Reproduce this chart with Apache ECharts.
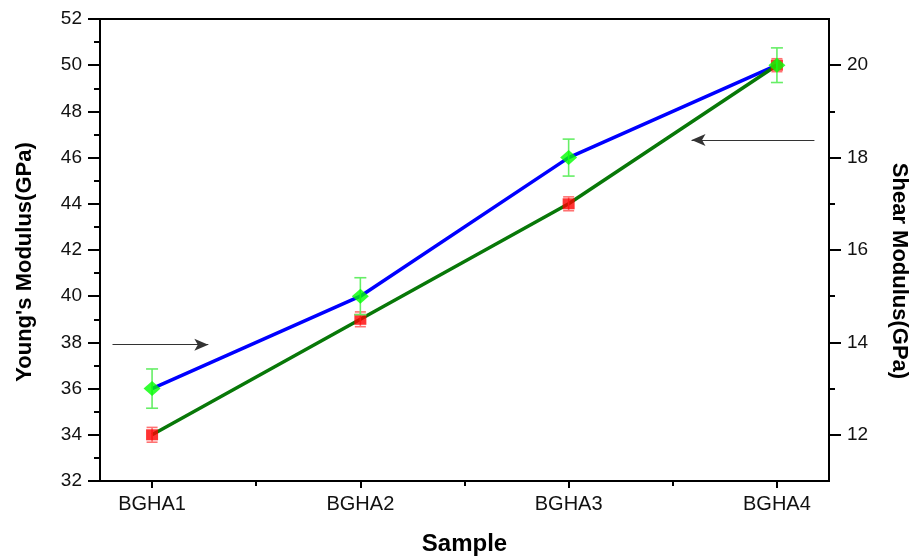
<!DOCTYPE html>
<html>
<head>
<meta charset="utf-8">
<script src="https://cdn.jsdelivr.net/npm/echarts@6/dist/echarts.min.js"></script>
<style>html,body{margin:0;padding:0;background:#fff}#c{width:914px;height:559px}</style>
</head>
<body>
<div id="c"></div>
<script>
const categories = ['BGHA1', 'BGHA2', 'BGHA3', 'BGHA4'];
const youngsModulus = [36, 40, 46, 50];
const youngsError = [0.85, 0.8, 0.8, 0.75];
const shearModulus = [12, 14.5, 17, 20];
const shearError = [0.16, 0.16, 0.15, 0.14];
const leftTicks = [32, 34, 36, 38, 40, 42, 44, 46, 48, 50, 52];
const rightTicks = [12, 14, 16, 18, 20];
const rightMinorTicks = [13, 15, 17, 19];

const FONT = '"Liberation Sans", Arial, sans-serif';
const xPos = categories.map((c, i) => i + 1);
const xMinor = xPos.slice(0, -1).map(v => v + 0.5);

const youngsData = youngsModulus.map((v, i) => [xPos[i], v]);
const shearData = shearModulus.map((v, i) => [xPos[i], v]);
const youngsErrData = youngsModulus.map((v, i) => [xPos[i], v - youngsError[i], v + youngsError[i]]);
const shearErrData = shearModulus.map((v, i) => [xPos[i], v - shearError[i], v + shearError[i]]);

function errRender(color, capW, lw) {
  return function (params, api) {
    const x = api.value(0), lo = api.value(1), hi = api.value(2);
    const p1 = api.coord([x, hi]);
    const p2 = api.coord([x, lo]);
    const st = { stroke: color, lineWidth: lw };
    return {
      type: 'group',
      children: [
        { type: 'line', shape: { x1: p1[0], y1: p1[1], x2: p2[0], y2: p2[1] }, style: st },
        { type: 'line', shape: { x1: p1[0] - capW / 2, y1: p1[1], x2: p1[0] + capW / 2, y2: p1[1] }, style: st },
        { type: 'line', shape: { x1: p2[0] - capW / 2, y1: p2[1], x2: p2[0] + capW / 2, y2: p2[1] }, style: st }
      ]
    };
  };
}

const axisLineStyle = { color: '#000', width: 2 };
const chart = echarts.init(document.getElementById('c'), null, { renderer: 'canvas' });
chart.setOption({
  animation: false,
  backgroundColor: '#fff',
  grid: { left: 100, right: 85, top: 19, bottom: 78, outerBoundsMode: 'none', containLabel: false, show: true, borderColor: '#000', borderWidth: 2, backgroundColor: 'transparent' },
  xAxis: [
    {
      type: 'value', min: 0.75, max: 4.25, position: 'bottom',
      name: 'Sample', nameLocation: 'middle', nameGap: 51,
      nameTextStyle: { fontFamily: FONT, fontWeight: 'bold', fontSize: 24, color: '#000' },
      axisLine: { show: true, lineStyle: axisLineStyle },
      axisTick: { show: true, customValues: xPos, length: 7, lineStyle: { color: '#000', width: 2 } },
      axisLabel: { customValues: xPos, formatter: v => categories[Math.round(v) - 1] || '', fontFamily: FONT, fontSize: 20, color: '#111', margin: 13 },
      splitLine: { show: false }
    },
    {
      type: 'value', min: 0.75, max: 4.25, position: 'bottom',
      axisLine: { show: false },
      axisTick: { show: true, customValues: xMinor, length: 5, lineStyle: { color: '#000', width: 2 } },
      axisLabel: { show: false },
      splitLine: { show: false }
    }
  ],
  yAxis: [
    {
      type: 'value', min: 32, max: 52, interval: 2, position: 'left',
      name: "Young's Modulus(GPa)", nameLocation: 'middle', nameGap: 64, nameRotate: 90,
      nameTextStyle: { fontFamily: FONT, fontWeight: 'bold', fontSize: 22, color: '#000', padding: [0, 24, 0, 0] },
      axisLine: { show: true, lineStyle: axisLineStyle },
      axisTick: { show: true, length: 12, lineStyle: { color: '#000', width: 2 } },
      minorTick: { show: true, splitNumber: 2, length: 6, lineStyle: { color: '#000', width: 2 } },
      axisLabel: { fontFamily: FONT, fontSize: 19, color: '#111', margin: 18 },
      splitLine: { show: false }, minorSplitLine: { show: false }
    },
    {
      type: 'value', min: 11, max: 21, position: 'right',
      name: 'Shear Modulus(GPa)', nameLocation: 'middle', nameGap: 59, nameRotate: -90,
      nameTextStyle: { fontFamily: FONT, fontWeight: 'bold', fontSize: 22, color: '#000', padding: [0, 0, 0, 42] },
      axisLine: { show: true, lineStyle: axisLineStyle },
      axisTick: { show: true, customValues: rightTicks, length: 12, lineStyle: { color: '#000', width: 2 } },
      axisLabel: { customValues: rightTicks, fontFamily: FONT, fontSize: 19, color: '#111', margin: 18 },
      splitLine: { show: false }
    },
    {
      type: 'value', min: 11, max: 21, position: 'right',
      axisLine: { show: false },
      axisTick: { show: true, customValues: rightMinorTicks, length: 6, lineStyle: { color: '#000', width: 2 } },
      axisLabel: { show: false },
      splitLine: { show: false }
    }
  ],
  series: [
    {
      name: "Young's line", type: 'line', xAxisIndex: 0, yAxisIndex: 0, data: youngsData,
      showSymbol: false, symbol: 'none', lineStyle: { color: '#0000ff', width: 3.5 }, z: 2, silent: true,
      markLine: {
        silent: true, symbol: ['none', 'arrow'], symbolSize: [9, 14],
        label: { show: false }, lineStyle: { color: '#333', width: 1.2, type: 'solid' },
        data: [[{ coord: [0.81, 37.9] }, { coord: [1.27, 37.9] }]]
      }
    },
    {
      name: 'Shear line', type: 'line', xAxisIndex: 0, yAxisIndex: 1, data: shearData,
      showSymbol: false, symbol: 'none', lineStyle: { color: '#087808', width: 3.5 }, z: 2, silent: true,
      markLine: {
        silent: true, symbol: ['none', 'arrow'], symbolSize: [9, 14],
        label: { show: false }, lineStyle: { color: '#333', width: 1.2, type: 'solid' },
        data: [[{ coord: [4.18, 18.38] }, { coord: [3.59, 18.38] }]]
      }
    },
    {
      name: 'Shear error', type: 'custom', xAxisIndex: 0, yAxisIndex: 1, data: shearErrData,
      encode: { x: 0, y: [1, 2] }, renderItem: errRender('#ff7272', 11, 1.6), z: 3, silent: true
    },
    {
      name: 'Shear Modulus', type: 'scatter', xAxisIndex: 0, yAxisIndex: 1, data: shearData,
      symbol: 'rect', symbolSize: [12, 11], itemStyle: { color: '#ff0000' }, z: 4, silent: true
    },
    {
      name: "Young's error", type: 'custom', xAxisIndex: 0, yAxisIndex: 0, data: youngsErrData,
      encode: { x: 0, y: [1, 2] }, renderItem: errRender('#66ee66', 12, 1.6), z: 5, silent: true
    },
    {
      name: "Young's Modulus", type: 'scatter', xAxisIndex: 0, yAxisIndex: 0, data: youngsData,
      symbol: 'diamond', symbolSize: [17, 15], itemStyle: { color: '#00ff00' }, z: 6, silent: true
    }
  ]
});
</script>
</body>
</html>
